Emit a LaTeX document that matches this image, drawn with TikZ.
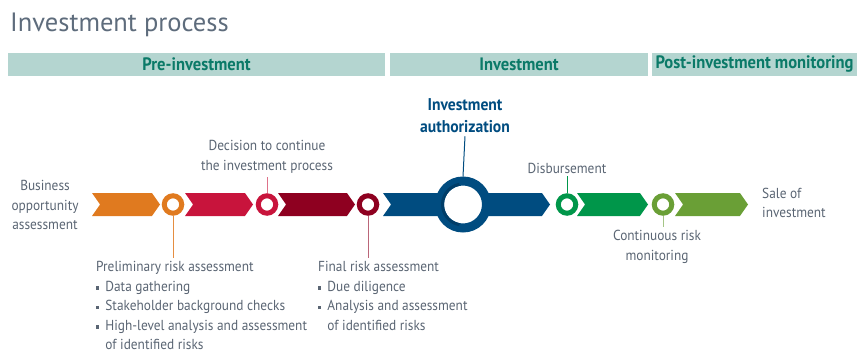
\documentclass[tikz,border=0pt]{standalone}
\usepackage{fontspec}
\setmainfont{PT Sans}[FakeStretch=0.92]
\newfontfamily\titlefont{PT Sans}
\usetikzlibrary{shapes.symbols,positioning}

\definecolor{txtgray}{HTML}{5A6573}
\definecolor{titlegray}{HTML}{5E6C7C}
\definecolor{barfill}{HTML}{B4D5D0}
\definecolor{bartext}{HTML}{0B7A68}
\definecolor{corange}{HTML}{E07A1F}
\definecolor{ccrimson}{HTML}{C8143C}
\definecolor{cdarkred}{HTML}{8E0020}
\definecolor{cblue}{HTML}{004C80}
\definecolor{cbluedark}{HTML}{003D68}
\definecolor{cgreen}{HTML}{00964A}
\definecolor{clgreen}{HTML}{6A9F36}

\newcommand{\sq}{\raisebox{0.25ex}{\rule{3.2pt}{3.2pt}}}

\begin{document}
\begin{tikzpicture}[x=1pt,y=1pt]
  \useasboundingbox (0,0) rectangle (857,354);

  \node[anchor=base west,inner sep=0,text=titlegray,font=\titlefont\fontsize{26.5}{30}\selectfont] (title) at (10,322) {Investment process};

  % phase bars
  \begin{scope}[every node/.style={fill=barfill,text=bartext,inner sep=0,minimum height=23,font=\bfseries\fontsize{18}{20}\selectfont}]
    \node[minimum width=377] (pre) at (196.5,289.5) {Pre-investment};
    \node[minimum width=258] (inv) at (519,289.5) {Investment};
    \node[minimum width=205] (post) at (754.5,289.5) {Post-investment monitoring};
  \end{scope}

  % chevrons
  \begin{scope}[every node/.style={signal,signal from=west,signal to=east,signal pointer angle=110,minimum height=23,inner sep=0}]
    \node[fill=corange,minimum width=68] (s1) at (126,149.5) {};
    \node[fill=ccrimson,minimum width=68] (s2) at (219,149.5) {};
    \node[fill=cdarkred,minimum width=77] (s3) at (316.5,149.5) {};
    \node[fill=cblue,minimum width=167] (s4) at (466.5,149.5) {};
    \node[fill=cgreen,minimum width=71] (s5) at (612.5,149.5) {};
    \node[fill=clgreen,minimum width=73] (s6) at (711.5,149.5) {};
  \end{scope}

  % milestones
  \begin{scope}[every node/.style={circle,fill=white,line width=5,minimum size=17.5,inner sep=0}]
    \node[draw=corange] (c1) at (173,149.5) {};
    \node[draw=ccrimson] (c2) at (267,149.5) {};
    \node[draw=cdarkred] (c3) at (368,149.5) {};
    \node[draw=cgreen] (c4) at (567,149.5) {};
    \node[draw=clgreen] (c5) at (663,149.5) {};
  \end{scope}
  \node[circle,draw=cblue,fill=white,line width=9,minimum size=47,inner sep=0] (auth) at (463,149.5) {};
  % darker inner rim on the left of the big ring
  \draw[cbluedark,line width=3] (auth.center) ++(100:20.5) arc[start angle=100,end angle=260,radius=20.5];

  % labels
  \begin{scope}[every node/.style={text=txtgray,align=center,inner sep=3pt,font=\fontsize{14.5}{19.5}\selectfont}]
    \node (bus) at (45,149) {Business\\opportunity\\assessment};
    \node (dec) at (267,197) {Decision to continue\\the investment process};
    \node (dis) at (567,186) {Disbursement};
    \node (cont) at (657,107) {Continuous risk\\monitoring};
    \node[anchor=west,align=left,inner sep=0] (sale) at (762,151) {Sale of\\investment};
    \node[anchor=north west,align=left,inner sep=0] (prelim) at (96,96) {%
      \begin{tabular}{@{}l@{\hspace{6pt}}l@{}}
        \multicolumn{2}{@{}l@{}}{Preliminary risk assessment}\\
        \sq & Data gathering\\
        \sq & Stakeholder background checks\\
        \sq & High-level analysis and assessment\\
            & of identified risks
      \end{tabular}};
    \node[anchor=north west,align=left,inner sep=0] (final) at (318,96) {%
      \begin{tabular}{@{}l@{\hspace{6pt}}l@{}}
        \multicolumn{2}{@{}l@{}}{Final risk assessment}\\
        \sq & Due diligence\\
        \sq & Analysis and assessment\\
            & of identified risks
      \end{tabular}};
  \end{scope}
  \node[text=cblue,align=center,inner sep=3pt,font=\bfseries\fontsize{17}{22}\selectfont] (authlbl) at (465,238) {Investment\\authorization};

  % leader lines
  \draw[corange!85,line width=1] (c1.south) -- (c1.south |- prelim.north);
  \draw[ccrimson!60,line width=1] (c2.north) -- (dec.south);
  \draw[cdarkred!60,line width=1] (c3.south) -- (c3.south |- final.north);
  \draw[cblue,line width=1] (auth.north) -- (authlbl.south);
  \draw[cgreen,line width=1] (c4.north) -- (dis.south);
  \draw[clgreen!60,line width=1] (c5.south) -- (c5.south |- cont.north);
\end{tikzpicture}
\end{document}
